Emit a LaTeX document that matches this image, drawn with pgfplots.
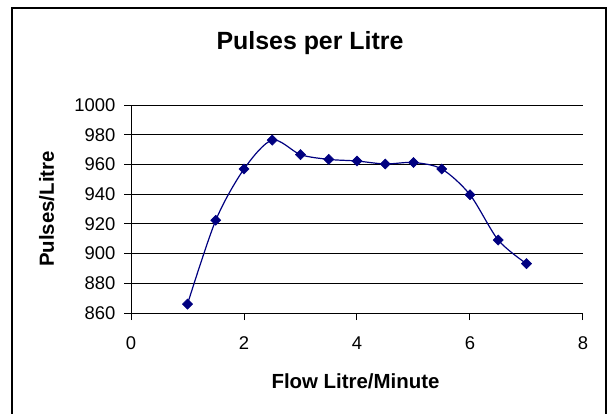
\documentclass[border=0pt]{standalone}
\usepackage{pgfplots}
\pgfplotsset{compat=1.18}
\usepackage{fontspec}
\setmainfont{Liberation Sans}
\definecolor{navyline}{RGB}{0,0,128}
\begin{document}
\begin{tikzpicture}
\useasboundingbox (0,0) rectangle (610bp,-414bp);
\clip (0,0) rectangle (610bp,-414bp);
\draw[line width=1.5bp, black] (12bp,-8bp) rectangle (606bp,-440bp);
\begin{axis}[
  at={(131bp,-313bp)}, anchor=south west,
  scale only axis, width=452bp, height=208bp,
  xmin=0, xmax=8, ymin=860, ymax=1000,
  xtick={0,2,4,6,8}, ytick={860,880,...,1000},
  axis x line*=bottom, axis y line*=left,
  axis line style={line width=1bp, black},
  ymajorgrids, grid style={line width=1bp, black},
  tick style={line width=1bp, black},
  tick align=outside, major tick length=7bp,
  /pgf/number format/assume math mode=true,
  /pgf/number format/1000 sep={},
  ticklabel style={font=\fontsize{18.5}{18.5}\selectfont},
  xticklabel shift=13bp, yticklabel shift=5bp,
  title={Pulses per Litre},
  every axis title/.style={at={(axis description cs:0.396,1.269)}, anchor=base,
    font=\fontsize{25}{25}\selectfont\bfseries},
  xlabel={Flow Litre/Minute},
  every axis x label/.style={at={(axis description cs:0.4967,-0.3606)}, anchor=base,
    font=\fontsize{20.5}{20.5}\selectfont\bfseries},
  ylabel={Pulses/Litre},
  every axis y label/.style={at={(axis description cs:-0.1704,0.5)}, rotate=90, anchor=base,
    font=\fontsize{20.5}{20.5}\selectfont\bfseries},
  clip=false,
]
\addplot[color=navyline, line width=1.2bp, smooth, tension=0.5,
  mark=square*, mark size=3.6bp, mark options={rotate=45, fill=navyline, draw=navyline, line width=0.5bp}]
  coordinates {
  (1,866) (1.5,922.4) (2,956.9) (2.5,976.4) (3,966.6) (3.5,963.4) (4,962.3)
  (4.5,960.3) (5,961.3) (5.5,956.9) (6,939.6) (6.5,909.1) (7,893.2)
  };
\end{axis}
\end{tikzpicture}
\end{document}
